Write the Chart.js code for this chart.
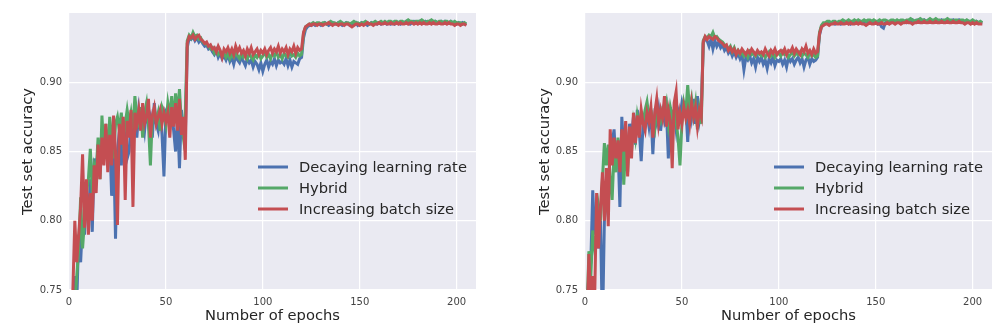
<!DOCTYPE html>
<html>
<head>
<meta charset="utf-8">
<script src="https://cdn.jsdelivr.net/npm/chart.js@4.4.1/dist/chart.umd.min.js"></script>
<style>
  body { margin: 0; background: #fff; }
  .panel { position: absolute; top: 0; height: 336px; }
</style>
</head>
<body>
<div class="panel" style="left:0;width:490px"><canvas id="chartLeft" width="490" height="336"></canvas></div>
<div class="panel" style="left:500px;width:502px"><canvas id="chartRight" width="502" height="336"></canvas></div>
<script>
// epoch numbers, 1..205
const epochs = Array.from({ length: 205 }, (_, i) => i + 1);
const xTickValues = [0, 50, 100, 150, 200];
const yTickValues = [0.75, 0.80, 0.85, 0.90];
const seriesNames = ['Decaying learning rate', 'Hybrid', 'Increasing batch size'];
const seriesColors = ['#4C72B0', '#55A868', '#C44E52'];

// left panel
const leftDecaying = [
  0.700, 0.730, 0.760, 0.740, 0.790, 0.770, 0.800, 0.790, 0.820, 0.800,
  0.830, 0.792, 0.845, 0.830, 0.855, 0.840, 0.860, 0.850, 0.865, 0.845,
  0.860, 0.818, 0.855, 0.787, 0.850, 0.865, 0.840, 0.870, 0.860, 0.845,
  0.850, 0.870, 0.865, 0.875, 0.860, 0.880, 0.870, 0.875, 0.865, 0.880,
  0.870, 0.875, 0.860, 0.885, 0.870, 0.865, 0.880, 0.862, 0.832, 0.878,
  0.875, 0.870, 0.880, 0.865, 0.850, 0.875, 0.838, 0.880, 0.862, 0.860,
  0.925, 0.932, 0.931, 0.933, 0.930, 0.932, 0.929, 0.931, 0.928, 0.926,
  0.927, 0.924, 0.925, 0.922, 0.920, 0.923, 0.918, 0.921, 0.917, 0.919,
  0.916, 0.920, 0.915, 0.918, 0.913, 0.919, 0.916, 0.914, 0.918, 0.915,
  0.912, 0.917, 0.914, 0.916, 0.911, 0.915, 0.913, 0.909, 0.914, 0.908,
  0.913, 0.916, 0.911, 0.915, 0.913, 0.917, 0.912, 0.916, 0.914, 0.915,
  0.913, 0.917, 0.912, 0.916, 0.911, 0.915, 0.914, 0.913, 0.917, 0.918,
  0.932, 0.938, 0.940, 0.941, 0.941, 0.942, 0.941, 0.942, 0.942, 0.941,
  0.942, 0.943, 0.942, 0.941, 0.942, 0.943, 0.942, 0.942, 0.943, 0.942,
  0.941, 0.942, 0.943, 0.942, 0.941, 0.942, 0.942, 0.943, 0.941, 0.942,
  0.943, 0.942, 0.942, 0.941, 0.942, 0.943, 0.942, 0.943, 0.942, 0.943,
  0.942, 0.943, 0.943, 0.942, 0.943, 0.942, 0.943, 0.942, 0.943, 0.943,
  0.942, 0.943, 0.943, 0.944, 0.943, 0.942, 0.943, 0.944, 0.943, 0.943,
  0.944, 0.943, 0.943, 0.944, 0.943, 0.944, 0.943, 0.943, 0.944, 0.943,
  0.943, 0.944, 0.943, 0.944, 0.943, 0.943, 0.944, 0.943, 0.943, 0.942,
  0.943, 0.942, 0.943, 0.942, 0.942
];
const leftHybrid = [
  0.690, 0.720, 0.740, 0.760, 0.780, 0.817, 0.780, 0.800, 0.820, 0.830,
  0.852, 0.820, 0.840, 0.835, 0.860, 0.830, 0.876, 0.850, 0.870, 0.840,
  0.875, 0.860, 0.845, 0.870, 0.875, 0.865, 0.878, 0.860, 0.870, 0.880,
  0.870, 0.878, 0.866, 0.890, 0.875, 0.870, 0.882, 0.860, 0.878, 0.885,
  0.870, 0.840, 0.875, 0.880, 0.872, 0.878, 0.865, 0.882, 0.878, 0.870,
  0.885, 0.876, 0.890, 0.870, 0.892, 0.875, 0.895, 0.870, 0.860, 0.878,
  0.930, 0.934, 0.932, 0.936, 0.933, 0.934, 0.931, 0.932, 0.929, 0.928,
  0.927, 0.926, 0.924, 0.925, 0.921, 0.923, 0.920, 0.922, 0.919, 0.921,
  0.918, 0.921, 0.917, 0.920, 0.918, 0.922, 0.919, 0.917, 0.921, 0.918,
  0.920, 0.917, 0.921, 0.918, 0.916, 0.920, 0.918, 0.921, 0.917, 0.919,
  0.922, 0.918, 0.920, 0.917, 0.921, 0.919, 0.922, 0.918, 0.920, 0.917,
  0.921, 0.919, 0.918, 0.922, 0.919, 0.920, 0.918, 0.921, 0.919, 0.920,
  0.935, 0.940, 0.941, 0.942, 0.942, 0.943, 0.942, 0.943, 0.943, 0.942,
  0.943, 0.943, 0.942, 0.943, 0.944, 0.943, 0.943, 0.942, 0.943, 0.944,
  0.943, 0.942, 0.943, 0.943, 0.942, 0.943, 0.944, 0.943, 0.943, 0.942,
  0.943, 0.943, 0.944, 0.943, 0.942, 0.943, 0.943, 0.944, 0.943, 0.943,
  0.944, 0.943, 0.944, 0.943, 0.944, 0.944, 0.943, 0.944, 0.944, 0.943,
  0.944, 0.944, 0.943, 0.944, 0.945, 0.944, 0.944, 0.943, 0.944, 0.944,
  0.944, 0.945, 0.944, 0.943, 0.944, 0.944, 0.945, 0.944, 0.944, 0.943,
  0.944, 0.944, 0.943, 0.944, 0.944, 0.943, 0.944, 0.943, 0.944, 0.943,
  0.943, 0.943, 0.942, 0.943, 0.942
];
const leftIncreasing = [
  0.700, 0.750, 0.800, 0.770, 0.790, 0.810, 0.848, 0.795, 0.830, 0.790,
  0.820, 0.800, 0.840, 0.820, 0.855, 0.830, 0.860, 0.840, 0.870, 0.835,
  0.862, 0.840, 0.876, 0.850, 0.797, 0.870, 0.855, 0.875, 0.815, 0.872,
  0.860, 0.880, 0.810, 0.878, 0.870, 0.880, 0.865, 0.885, 0.870, 0.875,
  0.888, 0.860, 0.876, 0.882, 0.870, 0.875, 0.880, 0.870, 0.878, 0.872,
  0.878, 0.860, 0.882, 0.868, 0.885, 0.865, 0.888, 0.862, 0.875, 0.844,
  0.928, 0.933, 0.932, 0.934, 0.931, 0.933, 0.934, 0.931, 0.930, 0.928,
  0.929, 0.926, 0.927, 0.924, 0.925, 0.922, 0.926, 0.923, 0.918, 0.924,
  0.922, 0.925, 0.921, 0.924, 0.920, 0.926, 0.922, 0.925, 0.921, 0.923,
  0.919, 0.924, 0.921, 0.925, 0.920, 0.922, 0.924, 0.920, 0.923, 0.921,
  0.924, 0.920, 0.923, 0.925, 0.921, 0.924, 0.922, 0.926, 0.921, 0.924,
  0.922, 0.925, 0.920, 0.924, 0.922, 0.926, 0.921, 0.925, 0.923, 0.924,
  0.936, 0.940, 0.941, 0.942, 0.941, 0.942, 0.942, 0.941, 0.942, 0.942,
  0.941, 0.942, 0.942, 0.943, 0.942, 0.941, 0.942, 0.942, 0.941, 0.942,
  0.942, 0.941, 0.942, 0.942, 0.941, 0.940, 0.941, 0.942, 0.942, 0.941,
  0.942, 0.941, 0.942, 0.943, 0.942, 0.942, 0.941, 0.942, 0.942, 0.943,
  0.942, 0.942, 0.943, 0.942, 0.942, 0.943, 0.942, 0.942, 0.943, 0.942,
  0.943, 0.942, 0.942, 0.943, 0.942, 0.943, 0.943, 0.942, 0.943, 0.942,
  0.943, 0.942, 0.943, 0.942, 0.942, 0.943, 0.942, 0.943, 0.942, 0.942,
  0.943, 0.942, 0.942, 0.943, 0.942, 0.943, 0.942, 0.942, 0.941, 0.942,
  0.942, 0.941, 0.942, 0.942, 0.941
];

// right panel
const rightDecaying = [
  0.740, 0.760, 0.770, 0.822, 0.790, 0.800, 0.780, 0.800, 0.720, 0.800,
  0.815, 0.830, 0.845, 0.856, 0.866, 0.840, 0.855, 0.810, 0.875, 0.850,
  0.860, 0.845, 0.870, 0.860, 0.875, 0.855, 0.880, 0.865, 0.843, 0.870,
  0.875, 0.878, 0.868, 0.880, 0.848, 0.875, 0.870, 0.880, 0.865, 0.878,
  0.872, 0.880, 0.845, 0.882, 0.870, 0.878, 0.866, 0.880, 0.875, 0.885,
  0.878, 0.883, 0.857, 0.886, 0.875, 0.888, 0.870, 0.890, 0.872, 0.880,
  0.928, 0.932, 0.930, 0.926, 0.931, 0.924, 0.930, 0.926, 0.929, 0.925,
  0.927, 0.923, 0.925, 0.921, 0.923, 0.919, 0.922, 0.918, 0.921, 0.917,
  0.920, 0.909, 0.918, 0.916, 0.919, 0.914, 0.917, 0.911, 0.918, 0.915,
  0.918, 0.913, 0.916, 0.910, 0.917, 0.914, 0.918, 0.912, 0.916, 0.915,
  0.917, 0.913, 0.916, 0.911, 0.918, 0.915, 0.917, 0.913, 0.916, 0.918,
  0.914, 0.917, 0.911, 0.916, 0.918, 0.913, 0.917, 0.915, 0.916, 0.918,
  0.934, 0.940, 0.942, 0.942, 0.943, 0.942, 0.943, 0.943, 0.942, 0.943,
  0.943, 0.942, 0.943, 0.944, 0.943, 0.943, 0.942, 0.943, 0.944, 0.943,
  0.943, 0.944, 0.943, 0.943, 0.944, 0.943, 0.943, 0.944, 0.943, 0.943,
  0.942, 0.943, 0.940, 0.939, 0.943, 0.944, 0.943, 0.943, 0.944, 0.943,
  0.944, 0.944, 0.943, 0.944, 0.944, 0.943, 0.944, 0.944, 0.945, 0.944,
  0.944, 0.945, 0.944, 0.944, 0.945, 0.944, 0.944, 0.945, 0.944, 0.944,
  0.945, 0.944, 0.944, 0.945, 0.944, 0.944, 0.945, 0.944, 0.944, 0.945,
  0.944, 0.944, 0.945, 0.944, 0.944, 0.943, 0.944, 0.944, 0.943, 0.944,
  0.943, 0.944, 0.943, 0.943, 0.943
];
const rightHybrid = [
  0.730, 0.778, 0.760, 0.793, 0.780, 0.790, 0.810, 0.800, 0.830, 0.856,
  0.840, 0.855, 0.830, 0.815, 0.850, 0.835, 0.860, 0.845, 0.862, 0.826,
  0.855, 0.835, 0.866, 0.850, 0.870, 0.860, 0.876, 0.868, 0.878, 0.872,
  0.880, 0.886, 0.875, 0.880, 0.872, 0.866, 0.882, 0.876, 0.872, 0.880,
  0.878, 0.885, 0.870, 0.882, 0.875, 0.880, 0.872, 0.860, 0.840, 0.870,
  0.885, 0.878, 0.898, 0.880, 0.888, 0.876, 0.885, 0.866, 0.880, 0.870,
  0.930, 0.933, 0.932, 0.934, 0.933, 0.936, 0.932, 0.933, 0.931, 0.930,
  0.929, 0.927, 0.926, 0.924, 0.926, 0.922, 0.925, 0.921, 0.923, 0.920,
  0.922, 0.919, 0.921, 0.918, 0.922, 0.920, 0.921, 0.919, 0.922, 0.920,
  0.919, 0.921, 0.918, 0.920, 0.922, 0.919, 0.921, 0.918, 0.920, 0.921,
  0.919, 0.922, 0.920, 0.921, 0.918, 0.920, 0.922, 0.919, 0.921, 0.920,
  0.922, 0.919, 0.921, 0.920, 0.918, 0.921, 0.919, 0.920, 0.918, 0.919,
  0.936, 0.941, 0.943, 0.943, 0.944, 0.944, 0.943, 0.944, 0.944, 0.943,
  0.944, 0.944, 0.945, 0.944, 0.944, 0.945, 0.944, 0.944, 0.945, 0.944,
  0.945, 0.944, 0.944, 0.945, 0.944, 0.945, 0.945, 0.944, 0.945, 0.944,
  0.944, 0.945, 0.944, 0.945, 0.945, 0.944, 0.944, 0.945, 0.945, 0.944,
  0.945, 0.944, 0.945, 0.945, 0.944, 0.945, 0.945, 0.946, 0.945, 0.944,
  0.945, 0.945, 0.946, 0.945, 0.945, 0.944, 0.945, 0.946, 0.945, 0.945,
  0.946, 0.945, 0.945, 0.944, 0.945, 0.945, 0.946, 0.945, 0.945, 0.944,
  0.945, 0.945, 0.944, 0.945, 0.945, 0.944, 0.945, 0.944, 0.944, 0.945,
  0.944, 0.944, 0.943, 0.944, 0.943
];
const rightIncreasing = [
  0.720, 0.776, 0.740, 0.760, 0.745, 0.820, 0.780, 0.810, 0.835, 0.800,
  0.838, 0.796, 0.866, 0.840, 0.860, 0.845, 0.858, 0.835, 0.866, 0.850,
  0.872, 0.832, 0.868, 0.845, 0.878, 0.856, 0.876, 0.860, 0.880, 0.870,
  0.865, 0.878, 0.872, 0.882, 0.860, 0.878, 0.888, 0.870, 0.880, 0.874,
  0.890, 0.868, 0.880, 0.872, 0.838, 0.885, 0.893, 0.866, 0.878, 0.870,
  0.882, 0.874, 0.880, 0.870, 0.885, 0.875, 0.882, 0.868, 0.880, 0.875,
  0.929, 0.933, 0.931, 0.933, 0.932, 0.931, 0.933, 0.932, 0.930, 0.929,
  0.928, 0.926, 0.927, 0.923, 0.925, 0.922, 0.924, 0.920, 0.923, 0.921,
  0.924, 0.922, 0.920, 0.923, 0.921, 0.924, 0.922, 0.920, 0.923, 0.921,
  0.922, 0.920, 0.924, 0.921, 0.919, 0.923, 0.921, 0.924, 0.920, 0.922,
  0.923, 0.921, 0.924, 0.920, 0.923, 0.922, 0.925, 0.921, 0.924, 0.922,
  0.920, 0.924, 0.922, 0.926, 0.921, 0.923, 0.920, 0.924, 0.921, 0.922,
  0.935, 0.940, 0.941, 0.942, 0.942, 0.941, 0.942, 0.942, 0.943, 0.942,
  0.942, 0.943, 0.942, 0.942, 0.943, 0.942, 0.943, 0.942, 0.942, 0.943,
  0.942, 0.943, 0.942, 0.942, 0.941, 0.942, 0.943, 0.942, 0.942, 0.943,
  0.942, 0.942, 0.943, 0.942, 0.942, 0.943, 0.942, 0.943, 0.943, 0.942,
  0.943, 0.943, 0.942, 0.943, 0.943, 0.944, 0.943, 0.943, 0.942, 0.943,
  0.943, 0.944, 0.943, 0.943, 0.944, 0.943, 0.943, 0.944, 0.943, 0.943,
  0.944, 0.943, 0.943, 0.944, 0.943, 0.943, 0.944, 0.943, 0.943, 0.944,
  0.943, 0.943, 0.944, 0.943, 0.943, 0.942, 0.943, 0.943, 0.942, 0.943,
  0.942, 0.943, 0.942, 0.942, 0.942
];

// grey plot background, like seaborn darkgrid
const plotBackground = {
  id: 'plotBackground',
  beforeDraw(chart) {
    const { ctx, chartArea: a } = chart;
    ctx.save();
    ctx.fillStyle = '#EAEAF2';
    ctx.fillRect(a.left, a.top, a.right - a.left, a.bottom - a.top);
    ctx.restore();
  }
};

// legend drawn inside the plot, lower right, no frame
const insideLegend = {
  id: 'insideLegend',
  afterDatasetsDraw(chart) {
    const { ctx, chartArea: a } = chart;
    ctx.save();
    ctx.font = '14.7px "DejaVu Sans"';
    ctx.textBaseline = 'middle';
    seriesNames.forEach((name, i) => {
      const y = a.top + 154 + i * 21;
      ctx.strokeStyle = seriesColors[i];
      ctx.lineWidth = 3;
      ctx.beginPath();
      ctx.moveTo(a.right - 218, y);
      ctx.lineTo(a.right - 188, y);
      ctx.stroke();
      ctx.fillStyle = '#262626';
      ctx.fillText(name, a.right - 177, y + 1);
    });
    ctx.restore();
  }
};

function makeChart(id, series, yAxisWidth, rightPad, yTitlePad) {
  const datasets = series.map((values, i) => ({
    label: seriesNames[i],
    data: epochs.map((e, j) => ({ x: e, y: values[j] })),
    borderColor: seriesColors[i],
    borderWidth: 3,
    pointRadius: 0,
    tension: 0,
    fill: false,
    clip: 0,
    order: 2 - i
  }));
  return new Chart(document.getElementById(id), {
    type: 'line',
    data: { datasets },
    plugins: [plotBackground, insideLegend],
    options: {
      responsive: false,
      animation: false,
      devicePixelRatio: 1,
      layout: { padding: { left: 0, top: 11, right: rightPad, bottom: 0 } },
      plugins: { legend: { display: false }, tooltip: { enabled: false } },
      scales: {
        x: {
          type: 'linear',
          min: 0,
          max: 210,
          afterFit: s => { s.height = 46; },
          afterBuildTicks: s => { s.ticks = xTickValues.map(v => ({ value: v })); },
          grid: { color: '#ffffff', lineWidth: 1.2, drawTicks: false },
          border: { display: false },
          ticks: { padding: 6, color: '#444', font: { family: 'DejaVu Sans', size: 10 }, maxRotation: 0 },
          title: {
            display: true,
            text: 'Number of epochs',
            color: '#262626',
            font: { family: 'DejaVu Sans', size: 14.7 },
            padding: { top: 0, bottom: 11 }
          }
        },
        y: {
          min: 0.75,
          max: 0.95,
          afterFit: s => { s.width = yAxisWidth; },
          afterBuildTicks: s => { s.ticks = yTickValues.map(v => ({ value: v })); },
          grid: { color: '#ffffff', lineWidth: 1.2, drawTicks: false },
          border: { display: false },
          ticks: {
            padding: 7,
            color: '#444',
            font: { family: 'DejaVu Sans', size: 10 },
            callback: v => v.toFixed(2)
          },
          title: {
            display: true,
            text: 'Test set accuracy',
            color: '#262626',
            font: { family: 'DejaVu Sans', size: 14.7 },
            padding: { top: yTitlePad, bottom: 0 }
          }
        }
      }
    }
  });
}

makeChart('chartLeft', [leftDecaying, leftHybrid, leftIncreasing], 69, 14, 19);
makeChart('chartRight', [rightDecaying, rightHybrid, rightIncreasing], 85, 10, 36);
</script>
</body>
</html>
